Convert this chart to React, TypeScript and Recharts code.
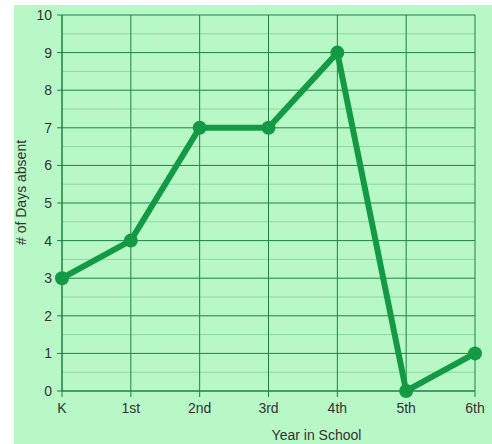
import React from 'react';
import { LineChart, Line, XAxis, YAxis, CartesianGrid, Label } from 'recharts';

const years = ['K', '1st', '2nd', '3rd', '4th', '5th', '6th'];
const daysAbsent = [3, 4, 7, 7, 9, 0, 1];
const yTicks = [0, 1, 2, 3, 4, 5, 6, 7, 8, 9, 10];
const minorLines = [0.5, 1.5, 2.5, 3.5, 4.5, 5.5, 6.5, 7.5, 8.5, 9.5];

const data = years.map((year, i) => ({ year, days: daysAbsent[i] }));

const App: React.FC = () => {
  return (
    <div
      style={{
        position: 'absolute',
        left: 14,
        top: 5,
        width: 478,
        height: 439,
        background: '#b8f8c6',
        fontFamily: '"Liberation Sans", Arial, sans-serif',
      }}
    >
      <LineChart
        width={478}
        height={439}
        data={data}
        margin={{ top: 10, right: 17, left: 8, bottom: 23 }}
        style={{ overflow: 'visible' }}
      >
        {/* minor half-step lines */}
        <CartesianGrid
          vertical={false}
          horizontalValues={minorLines}
          stroke="#8ed6a2"
          strokeWidth={1}
        />
        <CartesianGrid stroke="#1f8047" strokeWidth={1} />

        <XAxis
          dataKey="year"
          type="category"
          scale="point"
          padding={{ left: 0, right: 0 }}
          height={30}
          axisLine={{ stroke: '#1f8047' }}
          tickLine={{ stroke: '#1f8047' }}
          tickSize={6}
          tickMargin={6}
          tick={{ fill: '#333', fontSize: 14 }}
        >
          <Label value="Year in School" position="insideBottom" dx={48} dy={24} fill="#333" fontSize={14} />
        </XAxis>
        <YAxis
          type="number"
          domain={[0, 10]}
          ticks={yTicks}
          interval={0}
          width={40}
          axisLine={{ stroke: '#1f8047' }}
          tickLine={{ stroke: '#1f8047' }}
          tickSize={5}
          tickMargin={5}
          tick={{ fill: '#333', fontSize: 14 }}
        >
          <Label
            value="# of Days absent"
            angle={-90}
            position="insideLeft"
            dx={-6}
            dy={42}
            fill="#333"
            fontSize={14}
          />
        </YAxis>

        <Line
          type="linear"
          dataKey="days"
          stroke="#149a45"
          strokeWidth={6}
          dot={{ r: 7, fill: '#149a45', stroke: '#149a45', strokeWidth: 0 }}
          activeDot={false}
          isAnimationActive={false}
        />
      </LineChart>
    </div>
  );
};

export default App;
